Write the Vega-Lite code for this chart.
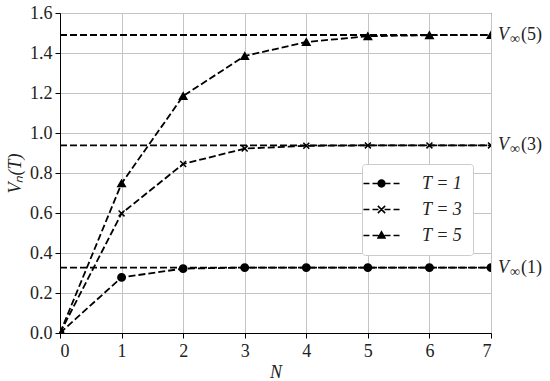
{
  "$schema": "https://vega.github.io/schema/vega-lite/v6.json",
  "width": 431,
  "height": 320,
  "autosize": "none",
  "padding": {"left": 60, "top": 13, "right": 59, "bottom": 48},
  "background": "white",
  "config": {
    "font": "Liberation Serif",
    "view": {"stroke": "black", "strokeWidth": 1},
    "axis": {
      "domainColor": "black", "domainWidth": 1,
      "tickColor": "black", "tickSize": 5, "tickWidth": 1,
      "gridColor": "#c4c4c4", "gridWidth": 1,
      "labelFont": "Liberation Serif", "labelFontSize": 18, "labelColor": "#222", "labelOverlap": false,
      "titleFont": "Liberation Serif", "titleFontSize": 18, "titleFontStyle": "italic", "titleFontWeight": "normal", "titleColor": "#222"
    },
    "axisY": {"labelOverlap": false},
    "axisQuantitative": {"labelOverlap": false}
  },
  "datasets": {
    "series": [
      {"T": "T = 1", "N": 0, "V": 0.0},
      {"T": "T = 1", "N": 1, "V": 0.278},
      {"T": "T = 1", "N": 2, "V": 0.322},
      {"T": "T = 1", "N": 3, "V": 0.327},
      {"T": "T = 1", "N": 4, "V": 0.327},
      {"T": "T = 1", "N": 5, "V": 0.327},
      {"T": "T = 1", "N": 6, "V": 0.327},
      {"T": "T = 1", "N": 7, "V": 0.327},
      {"T": "T = 3", "N": 0, "V": 0.0},
      {"T": "T = 3", "N": 1, "V": 0.598},
      {"T": "T = 3", "N": 2, "V": 0.845},
      {"T": "T = 3", "N": 3, "V": 0.922},
      {"T": "T = 3", "N": 4, "V": 0.936},
      {"T": "T = 3", "N": 5, "V": 0.938},
      {"T": "T = 3", "N": 6, "V": 0.938},
      {"T": "T = 3", "N": 7, "V": 0.938},
      {"T": "T = 5", "N": 0, "V": 0.0},
      {"T": "T = 5", "N": 1, "V": 0.748},
      {"T": "T = 5", "N": 2, "V": 1.185},
      {"T": "T = 5", "N": 3, "V": 1.385},
      {"T": "T = 5", "N": 4, "V": 1.455},
      {"T": "T = 5", "N": 5, "V": 1.484},
      {"T": "T = 5", "N": 6, "V": 1.489},
      {"T": "T = 5", "N": 7, "V": 1.49}
    ],
    "vinf": [
      {"T": "T = 1", "v": 0.327, "lab": "(1)"},
      {"T": "T = 3", "v": 0.938, "lab": "(3)"},
      {"T": "T = 5", "v": 1.49, "lab": "(5)"}
    ]
  },
  "resolve": {"scale": {"shape": "independent"}, "legend": {"shape": "independent"}},
  "layer": [
    {
      "data": {"name": "series"},
      "mark": {"type": "line", "color": "black", "strokeWidth": 1.8, "strokeDash": [7, 3]},
      "encoding": {
        "x": {"field": "N", "type": "quantitative",
              "scale": {"domain": [0, 7], "nice": false},
              "axis": {"title": "N", "values": [0,1,2,3,4,5,6,7], "format": "d", "labelPadding": 4, "titlePadding": 3, "labelOverlap": false}},
        "y": {"field": "V", "type": "quantitative",
              "scale": {"domain": [0, 1.6], "nice": false},
              "axis": {"title": "Vₙ(T)", "tickCount": 8, "format": ".1f", "labelPadding": 3, "titlePadding": 5, "labelOverlap": false, "labelBound": false, "labelFlush": false, "labelSeparation": 0}},
        "detail": {"field": "T"}
      }
    },
    {
      "data": {"name": "vinf"},
      "mark": {"type": "rule", "color": "black", "strokeWidth": 1.8, "strokeDash": [7, 3]},
      "encoding": {
        "y": {"field": "v", "type": "quantitative"},
        "x": {"datum": 0},
        "x2": {"datum": 7}
      }
    },
    {
      "data": {"name": "series"},
      "mark": {"type": "point", "filled": true, "color": "black", "stroke": "black", "strokeWidth": 1.5, "size": 55, "opacity": 1, "clip": true},
      "encoding": {
        "x": {"field": "N", "type": "quantitative"},
        "y": {"field": "V", "type": "quantitative"},
        "shape": {
          "field": "T", "type": "nominal",
          "scale": {"domain": ["T = 1", "T = 3", "T = 5"], "range": ["circle", "M-0.8,-0.8L0.8,0.8M-0.8,0.8L0.8,-0.8", "triangle-up"]},
          "legend": null
        }
      }
    },
    {
      "data": {"name": "vinf"},
      "mark": {"type": "point", "filled": true, "color": "black", "size": 0, "opacity": 1},
      "encoding": {
        "x": {"datum": 0},
        "y": {"field": "v", "type": "quantitative"},
        "shape": {
          "field": "T", "type": "nominal",
          "scale": {"domain": ["T = 1", "T = 3", "T = 5"], "range": [
            "M-2.08,-0.1H-1.39V0.1H-2.08ZM-1.04,-0.1H-0.35V0.1H-1.04ZM0.35,-0.1H1.04V0.1H0.35ZM1.39,-0.1H2.08V0.1H1.39ZM0.48,0A0.48,0.48,0,1,1,-0.48,0A0.48,0.48,0,1,1,0.48,0Z",
            "M-2.08,-0.1H-1.39V0.1H-2.08ZM-1.04,-0.1H-0.35V0.1H-1.04ZM0.35,-0.1H1.04V0.1H0.35ZM1.39,-0.1H2.08V0.1H1.39ZM-0.484,-0.356L0.356,0.484L0.484,0.356L-0.356,-0.484ZM-0.356,0.484L0.484,-0.356L0.356,-0.484L-0.484,0.356Z",
            "M-2.08,-0.1H-1.39V0.1H-2.08ZM-1.04,-0.1H-0.35V0.1H-1.04ZM0.35,-0.1H1.04V0.1H0.35ZM1.39,-0.1H2.08V0.1H1.39ZM0,-0.6L0.55,0.38L-0.55,0.38Z"
          ]},
          "legend": {
            "title": null,
            "orient": "none",
            "legendX": 302,
            "legendY": 151,
            "labelFont": "Liberation Serif",
            "labelFontSize": 18,
            "labelFontStyle": "italic",
            "labelColor": "#222",
            "labelOffset": 31,
            "rowPadding": 7,
            "padding": 10,
            "strokeColor": "#cccccc",
            "fillColor": "white",
            "cornerRadius": 3,
            "symbolSize": 300,
            "symbolFillColor": "black",
            "symbolOpacity": 1
          }
        }
      }
    },
    {
      "data": {"name": "vinf"},
      "mark": {"type": "text", "text": "V", "align": "left", "baseline": "middle", "dx": 7, "fontSize": 18, "fontStyle": "italic", "color": "#222"},
      "encoding": {"y": {"field": "v", "type": "quantitative"}, "x": {"datum": 7}}
    },
    {
      "data": {"name": "vinf"},
      "mark": {"type": "text", "text": "∞", "align": "left", "baseline": "middle", "dx": 19, "dy": 4, "fontSize": 14, "color": "#222"},
      "encoding": {"y": {"field": "v", "type": "quantitative"}, "x": {"datum": 7}}
    },
    {
      "data": {"name": "vinf"},
      "mark": {"type": "text", "align": "left", "baseline": "middle", "dx": 30, "fontSize": 18, "color": "#222"},
      "encoding": {"y": {"field": "v", "type": "quantitative"}, "x": {"datum": 7}, "text": {"field": "lab"}}
    }
  ]
}
